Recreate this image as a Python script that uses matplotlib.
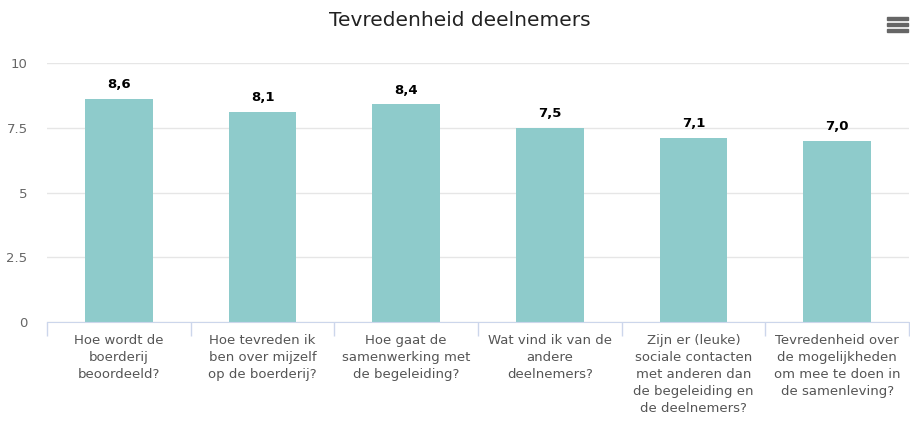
import matplotlib.pyplot as plt
import numpy as np
from matplotlib.patches import Rectangle

# Data
categories = [
    "Hoe wordt de\nboerderij\nbeoordeeld?",
    "Hoe tevreden ik\nben over mijzelf\nop de boerderij?",
    "Hoe gaat de\nsamenwerking met\nde begeleiding?",
    "Wat vind ik van de\nandere\ndeelnemers?",
    "Zijn er (leuke)\nsociale contacten\nmet anderen dan\nde begeleiding en\nde deelnemers?",
    "Tevredenheid over\nde mogelijkheden\nom mee te doen in\nde samenleving?",
]
scores = [8.6, 8.1, 8.4, 7.5, 7.1, 7.0]
y_ticks = [0, 2.5, 5, 7.5, 10]
y_tick_labels = ["0", "2.5", "5", "7.5", "10"]

bar_color = "#8ecbcb"
axis_color = "#ccd6eb"

fig = plt.figure(figsize=(9.1, 4.22), dpi=100)
ax = fig.add_axes([47 / 910, 1 - 322 / 422, 862 / 910, 259 / 422])

x = np.arange(len(scores))
ax.bar(x, scores, width=0.47, color=bar_color, zorder=2)

for xi, v in zip(x, scores):
    ax.text(xi, v + 0.3, f"{v:.1f}".replace(".", ","), ha="center", va="bottom",
            fontsize=9.5, fontweight="bold", color="#000000")

ax.set_xlim(-0.5, len(scores) - 0.5)
ax.set_ylim(0, 10)
ax.set_yticks(y_ticks)
ax.set_yticklabels(y_tick_labels, color="#666666", fontsize=9.5)
ax.yaxis.grid(True, color="#e6e6e6", linewidth=1, zorder=0)
ax.tick_params(axis="y", length=0, pad=14)

# category separators as x ticks
ax.set_xticks(np.arange(len(scores) + 1) - 0.5)
ax.set_xticklabels([])
ax.tick_params(axis="x", length=10, color=axis_color, width=1)
for xi, lab in zip(x, categories):
    ax.text(xi, -0.45, lab, ha="center", va="top", fontsize=9.5, color="#555555",
            linespacing=1.4, transform=ax.transData)

for side in ["top", "right", "left"]:
    ax.spines[side].set_visible(False)
ax.spines["bottom"].set_color(axis_color)

fig.text(0.505, 0.952, "Tevredenheid deelnemers", ha="center", va="center",
         fontsize=14.5, color="#222222")

# menu icon
for yy in [18, 24, 30]:
    fig.patches.append(Rectangle((887 / 910, 1 - (yy + 2) / 422), 21 / 910, 3 / 422,
                                 transform=fig.transFigure, color="#666666"))

fig.savefig("out.png", dpi=100)
